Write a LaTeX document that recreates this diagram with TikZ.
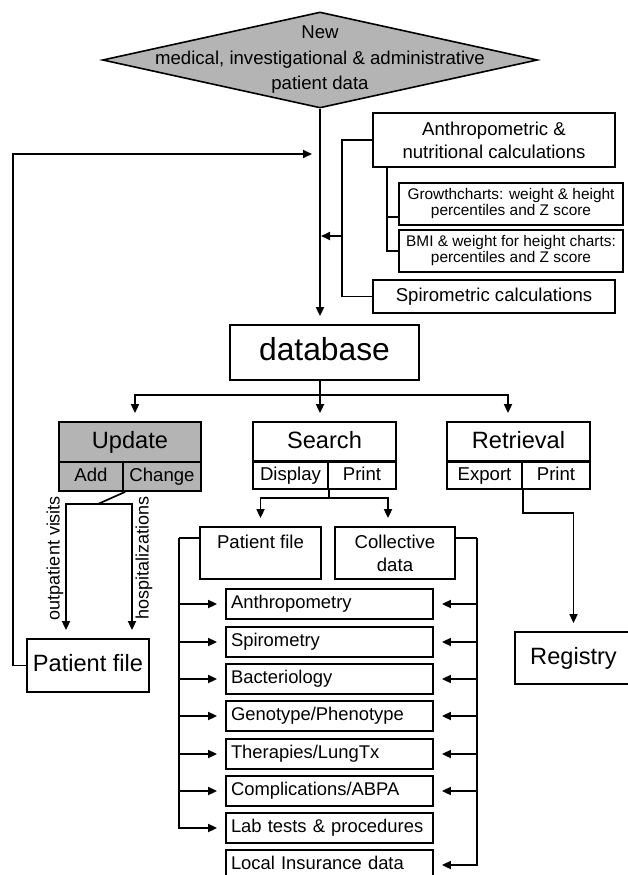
\documentclass[tikz,border=0pt]{standalone}
\usepackage{fontspec}
\setmainfont{Liberation Sans}
\usetikzlibrary{arrows.meta,shapes.geometric,calc}
\definecolor{fillgray}{RGB}{180,180,180}
\newcommand\fsz[2]{\fontsize{#1pt}{#2pt}\selectfont}
\begin{document}
\begin{tikzpicture}[x=1pt,y=-1pt,
  box/.style={draw, line width=1.8pt, inner sep=0pt, align=center},
  ln/.style={line width=1.7pt},
  arr/.style={ln, -{Triangle[length=9pt,width=8pt]}, shorten >=8pt},
  arrz/.style={ln, -{Triangle[length=9pt,width=8pt]}, shorten >=1pt},
  one/.style={text height=13.4pt, text depth=4pt},
  onebig/.style={text height=17pt, text depth=5pt},
  item/.style={box, text width=197pt, inner xsep=5pt, minimum height=30pt, align=left, font=\fsz{18.4}{20}, text height=13.4pt, text depth=4pt},
  txt/.style={font=\fsz{18.6}{23}},
  big/.style={font=\fsz{23.6}{26}},
  small/.style={font=\fsz{15.4}{16}}]
\useasboundingbox (0,0) rectangle (628,875);
\clip (0,0) rectangle (628,875);

% top diamond
\node[diamond, draw, fill=fillgray, line width=1.6pt, minimum width=435pt, minimum height=96pt, inner sep=0pt] (nd) at (320,60) {};
\node[align=center, font=\fsz{18.6}{25.5}] (ndt) at (nd.center) {New\\medical, investigational \& administrative\\patient data};

% calculations
\node[box, txt, minimum width=242pt, minimum height=54pt] (anth) at (494,140) {Anthropometric \&\\nutritional calculations};
\node[box, small, minimum width=224pt, minimum height=42pt] (growth) at (511,204) {Growthcharts: weight \& height\\percentiles and Z score};
\node[box, small, minimum width=224pt, minimum height=42pt] (bmi) at (511,251) {BMI \& weight for height charts:\\percentiles and Z score};
\node[box, txt, one, minimum width=242pt, minimum height=33pt] (spir) at (494,296.5) {Spirometric calculations};

% database
\node[box, font=\fsz{31.8}{34}, text height=23pt, text depth=7pt, minimum width=189pt, minimum height=55pt] (db) at (324.5,352.5) {database};

% update
\node[box, big, onebig, fill=fillgray, minimum width=142pt, minimum height=40pt] (upd) at (130,442) {Update};
\node[box, txt, one, fill=fillgray, minimum width=64pt, minimum height=29pt] (uadd) at (91,476.5) {Add};
\node[box, txt, one, fill=fillgray, minimum width=78pt, minimum height=29pt] (uchg) at (162,476.5) {Change};

% search
\node[box, big, onebig, minimum width=143pt, minimum height=40pt] (srch) at (324.5,442) {Search};
\node[box, txt, one, minimum width=75pt, minimum height=27pt] (sdisp) at (290.5,475.5) {Display};
\node[box, txt, one, minimum width=68pt, minimum height=27pt] (sprt) at (362,475.5) {Print};
\draw[line width=2.8pt] (sdisp.north west) -- (sprt.north east);

% retrieval
\node[box, big, onebig, minimum width=143pt, minimum height=40pt] (retr) at (518.5,442) {Retrieval};
\node[box, txt, one, minimum width=75pt, minimum height=27pt] (rexp) at (484.5,475.5) {Export};
\node[box, txt, one, minimum width=68pt, minimum height=27pt] (rprt) at (556,475.5) {Print};
\draw[line width=2.8pt] (rexp.north west) -- (rprt.north east);

% lower nodes
\node[box, big, onebig, minimum width=122pt, minimum height=53pt] (pfl) at (88,665.5) {Patient file};
\node[box, big, onebig, minimum width=117pt, minimum height=52pt] (reg) at (573.5,658) {Registry};
\node[box, txt, minimum width=121pt, minimum height=52pt, text height=13.4pt, text depth=22pt] (pfs) at (260.5,553) {Patient file};
\node[box, txt, minimum width=120pt, minimum height=52pt] (col) at (395,553) {Collective\\data};

\node[item] (i1) at (329.5,604) {Anthropometry};
\node[item] (i2) at (329.5,642) {Spirometry};
\node[item] (i3) at (329.5,679) {Bacteriology};
\node[item] (i4) at (329.5,716) {Genotype/Phenotype};
\node[item] (i5) at (329.5,754) {Therapies/LungTx};
\node[item] (i6) at (329.5,791) {Complications/ABPA};
\node[item] (i7) at (329.5,828) {Lab tests \& procedures};
\node[item] (i8) at (329.5,865) {Local Insurance data};

% rotated labels
\node[rotate=90, font=\fsz{18}{20}] (lbo) at (55,558) {outpatient visits};
\node[rotate=90, font=\fsz{18}{20}] (lbh) at (144,558) {hospitalizations};

% connectors: top
\draw[arr] (nd.south) -- (nd.south |- db.north);
\coordinate (rt) at (320,154);
\draw[arr] (pfl.west) -- ++(-13,0) |- (rt);
\draw[ln] (anth.west) -- ++(-30,0) |- (spir.west);
\coordinate (cm) at (343,236);
\draw[arrz] (cm) -- (cm -| nd.south);
\draw[ln] ([xshift=15pt]anth.south west) |- (bmi.west);
\coordinate (gs) at (388,217);
\draw[ln] (gs) -- (gs -| growth.west);

% database branches
\coordinate (dj) at (320,395);
\draw[ln] (nd.south |- db.south) -- (dj);
\draw[arr] (dj) -| ([xshift=5pt]upd.north);
\draw[arr] (dj) -- (dj |- srch.north);
\draw[arr] (dj) -| ([xshift=-10.5pt]retr.north);

% update to patient file
\coordinate (uj) at (98,504);
\draw[ln] ([xshift=3pt]uchg.south west) -- (uj);
\draw[arr] (uj) -| ([xshift=-22pt]pfl.north);
\draw[arr] (uj) -| ([xshift=44pt]pfl.north);

% search split
\draw[ln] (sdisp.south east) -- ++(0,8) coordinate (sj);
\draw[arr] (sj) -| (pfs.north);
\draw[arr] (sj) -| ([xshift=-7pt]col.north);

% retrieval to registry
\draw[arr] (rexp.south east) -- ++(0,23) -| (reg.north);

% list brackets
\coordinate (lb) at (179,538);
\draw[ln] ([yshift=15pt]pfs.west) -- (lb);
\draw[arr] (lb) |- (i7.west);
\foreach \i in {1,...,6} \draw[arr] (lb |- i\i.west) -- (i\i.west);
\coordinate (rb) at (477,538);
\draw[ln] ([yshift=15pt]col.east) -- (rb);
\draw[arr] (rb) |- (i8.east);
\foreach \i in {1,...,6} \draw[arr] (rb |- i\i.east) -- (i\i.east);
\end{tikzpicture}
\end{document}
